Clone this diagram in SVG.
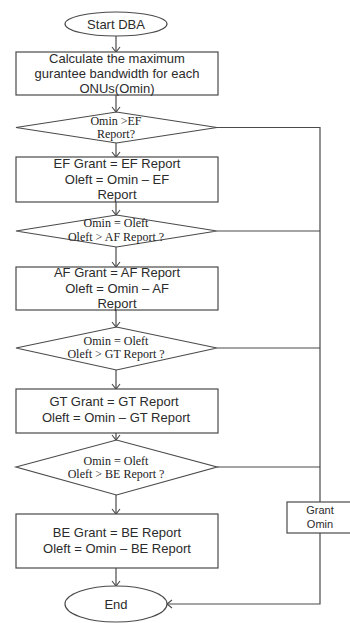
<svg xmlns="http://www.w3.org/2000/svg" width="350" height="623" viewBox="0 0 350 623">
  <style>
    .shape { fill: #fff; stroke: #4a4a4a; stroke-width: 1.2; }
    .sans { font-family: "Liberation Sans", "Open Sans", sans-serif; font-size: 13px; fill: #2b2b2b; text-anchor: middle; }
    .serif { font-family: "Liberation Serif", serif; font-size: 12px; fill: #222; text-anchor: middle; }
    .conn { fill: none; stroke: #4a4a4a; stroke-width: 1.2; }
  </style>
  <defs>
    <marker id="arrow" markerWidth="10" markerHeight="10" refX="8" refY="5" orient="auto" markerUnits="userSpaceOnUse">
      <path d="M3,1 L8,5 L3,9" fill="none" stroke="#4a4a4a" stroke-width="1.1"/>
    </marker>
  </defs>
  <rect width="350" height="623" fill="#fff"/>

  <g id="connectors">
    <line class="conn" x1="116" y1="36" x2="116" y2="52" marker-end="url(#arrow)"/>
    <line class="conn" x1="116" y1="95" x2="116" y2="112" marker-end="url(#arrow)"/>
    <line class="conn" x1="116" y1="143" x2="116" y2="157" marker-end="url(#arrow)"/>
    <line class="conn" x1="116" y1="202" x2="116" y2="215" marker-end="url(#arrow)"/>
    <line class="conn" x1="116" y1="247" x2="116" y2="267" marker-end="url(#arrow)"/>
    <line class="conn" x1="116" y1="310" x2="116" y2="327" marker-end="url(#arrow)"/>
    <line class="conn" x1="116" y1="370" x2="116" y2="389" marker-end="url(#arrow)"/>
    <line class="conn" x1="116" y1="433" x2="116" y2="440" marker-end="url(#arrow)"/>
    <line class="conn" x1="116" y1="495" x2="116" y2="514" marker-end="url(#arrow)"/>
    <line class="conn" x1="116" y1="568" x2="116" y2="586" marker-end="url(#arrow)"/>
    <!-- "no" branches collect into the right-hand trunk -->
    <polyline class="conn" points="217,127.5 320,127.5 320,502"/>
    <line class="conn" x1="217" y1="231" x2="320" y2="231"/>
    <line class="conn" x1="217" y1="348" x2="320" y2="348"/>
    <line class="conn" x1="217" y1="467" x2="320" y2="467"/>
    <polyline class="conn" points="320,533 320,604 167,604" marker-end="url(#arrow)"/>
  </g>

  <g id="start">
    <ellipse class="shape" cx="116" cy="24" rx="51" ry="12"/>
    <text class="sans" x="116" y="28.5">Start DBA</text>
  </g>

  <g id="calc">
    <rect class="shape" x="16" y="52" width="202" height="43"/>
    <text class="sans" x="117" y="63">Calculate the maximum</text>
    <text class="sans" x="117" y="78">gurantee bandwidth for each</text>
    <text class="sans" x="117" y="93">ONUs(Omin)</text>
  </g>

  <g id="check-ef">
    <polygon class="shape" points="16,127.5 116.5,112 217,127.5 116.5,143"/>
    <text class="serif" x="116" y="125">Omin &gt;EF</text>
    <text class="serif" x="116" y="138">Report?</text>
  </g>

  <g id="grant-ef">
    <rect class="shape" x="16" y="157" width="202" height="45"/>
    <text class="sans" x="117" y="168">EF Grant = EF Report</text>
    <text class="sans" x="117" y="183.5">Oleft = Omin – EF</text>
    <text class="sans" x="117" y="199">Report</text>
  </g>

  <g id="check-af">
    <polygon class="shape" points="16,231 116.5,215 217,231 116.5,247"/>
    <text class="serif" x="116" y="227">Omin = Oleft</text>
    <text class="serif" x="116" y="241">Oleft &gt; AF Report ?</text>
  </g>

  <g id="grant-af">
    <rect class="shape" x="16" y="267" width="202" height="43"/>
    <text class="sans" x="117" y="277">AF Grant = AF Report</text>
    <text class="sans" x="117" y="292.5">Oleft = Omin – AF</text>
    <text class="sans" x="117" y="308">Report</text>
  </g>

  <g id="check-gt">
    <polygon class="shape" points="16,348 116.5,327 217,348 116.5,370"/>
    <text class="serif" x="116" y="345">Omin = Oleft</text>
    <text class="serif" x="116" y="358">Oleft &gt; GT Report ?</text>
  </g>

  <g id="grant-gt">
    <rect class="shape" x="16" y="389" width="202" height="44"/>
    <text class="sans" x="114" y="406">GT Grant = GT Report</text>
    <text class="sans" x="116" y="421.5">Oleft = Omin – GT Report</text>
  </g>

  <g id="check-be">
    <polygon class="shape" points="16,467 116.5,440 217,467 116.5,495"/>
    <text class="serif" x="116" y="465">Omin = Oleft</text>
    <text class="serif" x="116" y="478">Oleft &gt; BE Report ?</text>
  </g>

  <g id="grant-be">
    <rect class="shape" x="16" y="514" width="202" height="54"/>
    <text class="sans" x="117" y="537">BE Grant = BE Report</text>
    <text class="sans" x="117" y="553">Oleft = Omin – BE Report</text>
  </g>

  <g id="grant-omin">
    <rect class="shape" x="287" y="502" width="65" height="31"/>
    <text class="sans" x="320" y="514" style="font-size:11px">Grant</text>
    <text class="sans" x="320" y="528" style="font-size:11px">Omin</text>
  </g>

  <g id="end">
    <ellipse class="shape" cx="116" cy="604" rx="51" ry="18"/>
    <text class="sans" x="116" y="608.5">End</text>
  </g>
</svg>
